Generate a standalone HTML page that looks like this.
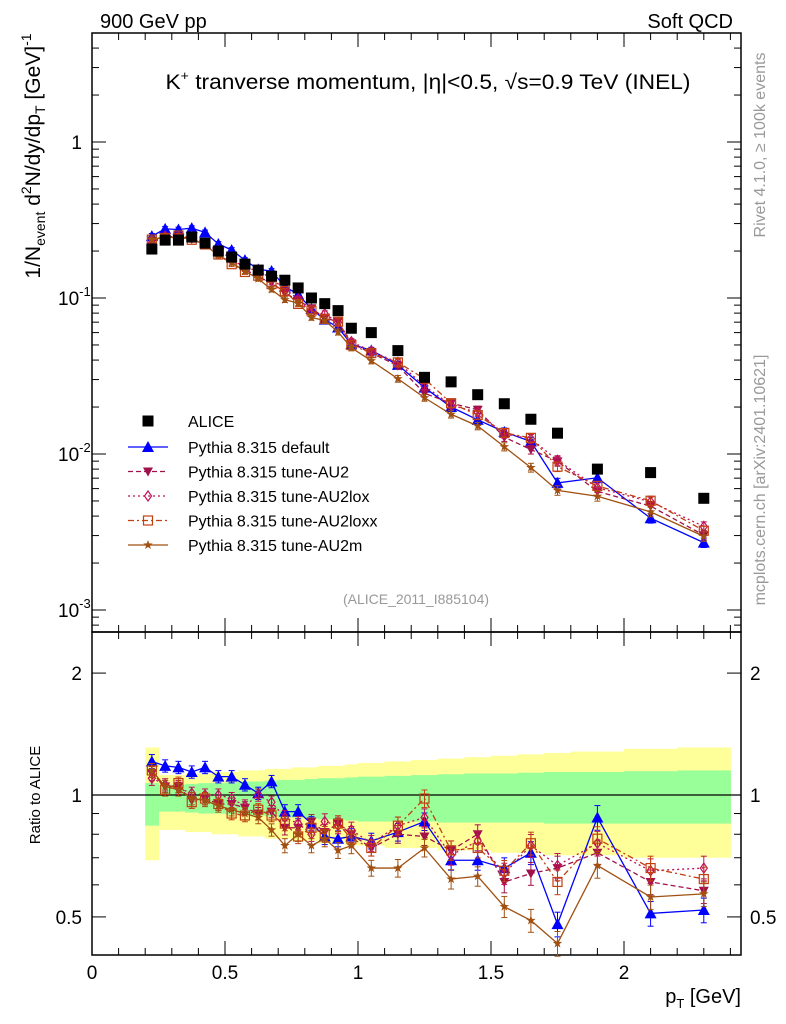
<!DOCTYPE html>
<html><head><meta charset="utf-8"><style>
html,body{margin:0;padding:0;background:#fff;}
svg{display:block;font-family:"Liberation Sans",sans-serif;}
</style></head><body>
<svg id="c" width="786" height="1024" viewBox="0 0 786 1024" xmlns="http://www.w3.org/2000/svg">
<text x="100" y="28" font-size="20">900 GeV pp</text>
<text x="733" y="28" font-size="20" text-anchor="end">Soft QCD</text>
<text x="428" y="89" font-size="21" text-anchor="middle" textLength="525" lengthAdjust="spacingAndGlyphs">K<tspan font-size="13" dy="-9">+</tspan><tspan dy="9"> tranverse momentum, |η|&lt;0.5, √s=0.9 TeV (INEL)</tspan></text>
<text x="416" y="604" font-size="14" fill="#999" text-anchor="middle">(ALICE_2011_I885104)</text>
<text transform="translate(40,156) rotate(-90)" font-size="21" text-anchor="middle">1/N<tspan font-size="14" dy="5">event</tspan><tspan dy="-5"> d</tspan><tspan font-size="14" dy="-9">2</tspan><tspan dy="9">N/dy/dp</tspan><tspan font-size="14" dy="5">T</tspan><tspan dy="-5">  [GeV]</tspan><tspan font-size="14" dy="-9">-1</tspan></text>
<text transform="translate(40,795) rotate(-90)" font-size="15" text-anchor="middle">Ratio to ALICE</text>
<text x="741" y="1003" font-size="20" text-anchor="end">p<tspan font-size="13" dy="5">T</tspan><tspan dy="-5"> [GeV]</tspan></text>
<text transform="translate(765,145) rotate(-90)" font-size="16" fill="#999" text-anchor="middle">Rivet 4.1.0, ≥ 100k events</text>
<text transform="translate(765,480) rotate(-90)" font-size="16" fill="#999" text-anchor="middle">mcplots.cern.ch [arXiv:2401.10621]</text>
<g id="g"></g>
</svg>
<script>
const pt=[0.225,0.275,0.325,0.375,0.425,0.475,0.525,0.575,0.625,0.675,0.725,0.775,0.825,0.875,0.925,0.975,1.05,1.15,1.25,1.35,1.45,1.55,1.65,1.75,1.9,2.1,2.3];
const binLo=[0.2,0.25,0.3,0.35,0.4,0.45,0.5,0.55,0.6,0.65,0.7,0.75,0.8,0.85,0.9,0.95,1.0,1.1,1.2,1.3,1.4,1.5,1.6,1.7,1.8,2.0,2.2];
const binHi=[0.25,0.3,0.35,0.4,0.45,0.5,0.55,0.6,0.65,0.7,0.75,0.8,0.85,0.9,0.95,1.0,1.1,1.2,1.3,1.4,1.5,1.6,1.7,1.8,2.0,2.2,2.4];
const alice=[0.206,0.235,0.235,0.246,0.225,0.2,0.183,0.165,0.151,0.138,0.13,0.116,0.1,0.092,0.083,0.064,0.06,0.046,0.031,0.029,0.024,0.021,0.0167,0.0136,0.0080,0.0076,0.0052];
const rDefault=[1.21,1.18,1.17,1.14,1.17,1.11,1.11,1.06,1.01,1.08,0.91,0.91,0.85,0.79,0.78,0.79,0.77,0.81,0.86,0.69,0.69,0.66,0.72,0.48,0.88,0.51,0.52];
const rAU2=[1.13,1.05,1.05,0.97,0.98,0.95,0.95,0.93,0.90,0.91,0.83,0.83,0.86,0.81,0.85,0.80,0.74,0.80,0.79,0.73,0.80,0.61,0.64,0.66,0.72,0.61,0.58];
const rAU2lox=[1.10,1.06,1.04,1.01,1.00,1.00,0.98,0.94,1.00,0.96,0.88,0.85,0.80,0.86,0.84,0.82,0.76,0.84,0.88,0.71,0.77,0.64,0.75,0.67,0.76,0.65,0.66];
const rAU2loxx=[1.15,1.03,1.07,0.96,0.98,0.95,0.90,0.89,0.92,0.89,0.85,0.79,0.83,0.80,0.85,0.78,0.74,0.84,0.98,0.73,0.74,0.65,0.76,0.61,0.78,0.66,0.62];
const rAU2m=[1.15,1.05,1.03,0.98,0.97,0.94,0.92,0.90,0.88,0.82,0.75,0.80,0.75,0.78,0.73,0.75,0.66,0.66,0.74,0.62,0.63,0.53,0.49,0.43,0.67,0.56,0.57];
const relErr=[0.04,0.035,0.035,0.035,0.035,0.035,0.035,0.035,0.035,0.035,0.04,0.04,0.04,0.045,0.045,0.045,0.045,0.05,0.05,0.055,0.055,0.06,0.065,0.07,0.07,0.07,0.07];
const greenHi=[1.07,1.06,1.06,1.065,1.07,1.07,1.075,1.08,1.08,1.085,1.09,1.09,1.095,1.10,1.10,1.105,1.11,1.115,1.12,1.125,1.13,1.13,1.135,1.14,1.14,1.145,1.15];
const greenLo=[0.84,0.91,0.91,0.905,0.90,0.90,0.895,0.89,0.89,0.885,0.88,0.88,0.875,0.87,0.87,0.865,0.86,0.86,0.86,0.855,0.855,0.855,0.855,0.85,0.85,0.85,0.85];
const yellowHi=[1.31,1.12,1.12,1.13,1.13,1.14,1.14,1.15,1.15,1.16,1.16,1.17,1.17,1.18,1.18,1.19,1.20,1.21,1.22,1.23,1.24,1.25,1.26,1.27,1.28,1.30,1.31];
const yellowLo=[0.69,0.82,0.82,0.81,0.81,0.80,0.80,0.79,0.79,0.78,0.78,0.77,0.77,0.76,0.76,0.75,0.75,0.74,0.74,0.73,0.73,0.72,0.72,0.71,0.71,0.70,0.70];
const yTickExp=[0,-1,-2,-3];
const rTicks=[2,1,0.5];
const xTicks=[0,0.5,1,1.5,2];

const NS="http://www.w3.org/2000/svg";
const G=document.getElementById('g');
const L=92,R=741,T=33,M=632,B=955;
const X=v=>L+v*266;
const Y=v=>142-156*Math.log10(v);
const RY=v=>795-405*Math.log10(v);
function el(tag,attrs,parent){const e=document.createElementNS(NS,tag);for(const k in attrs)e.setAttribute(k,attrs[k]);(parent||G).appendChild(e);return e;}

const bands=el('g',{});


for(let i=0;i<pt.length;i++){
  const y=el('rect',{x:X(binLo[i]),y:RY(yellowHi[i]),width:X(binHi[i])-X(binLo[i])+0.5,height:RY(yellowLo[i])-RY(yellowHi[i]),fill:'#ffff99'},bands);
  
  
}
for(let i=0;i<pt.length;i++){
  const g=el('rect',{x:X(binLo[i]),y:RY(greenHi[i]),width:X(binHi[i])-X(binLo[i])+0.5,height:RY(greenLo[i])-RY(greenHi[i]),fill:'#99ff99'},bands);
  
  
}
const one=el('line',{x1:L,x2:R,y1:RY(1),y2:RY(1),stroke:'#000','stroke-width':1.2});



const f1=el('rect',{x:L,y:T,width:R-L,height:M-T,fill:'none',stroke:'#000','stroke-width':1.5});


const f2=el('rect',{x:L,y:M,width:R-L,height:B-M,fill:'none',stroke:'#000','stroke-width':1.5});



for(let k=0;k<=24;k++){
  const v=k/10,x=X(v),maj=(k%5===0),len=maj?14:7;
  [[T,1],[M,-1],[M,1],[B,-1]].forEach(([y0,d])=>{el('line',{x1:x,x2:x,y1:y0,y2:y0+d*len,stroke:'#000','stroke-width':1});});
}
xTicks.forEach(v=>{const t=el('text',{x:X(v),y:979,'font-size':19,'text-anchor':'middle'});t.textContent=String(v);

});

for(let e=-4;e<=1;e++){for(let m=1;m<=9;m++){const v=m*Math.pow(10,e),y=Y(v);if(y<T||y>M)continue;const len=m===1?14:7;
el('line',{x1:L,x2:L+len,y1:y,y2:y,stroke:'#000'});el('line',{x1:R,x2:R-len,y1:y,y2:y,stroke:'#000'});}}
yTickExp.forEach(e=>{const t=el('text',{x:e===0?82:58,y:Y(Math.pow(10,e))+7,'font-size':19,'text-anchor':e===0?'end':'start'});
if(e===0)t.textContent='1';else{t.textContent='10';const s=el('tspan',{dy:-9,'font-size':13},t);s.textContent=String(e);}

});

for(let e=-1;e<=0;e++){for(let m=1;m<=9;m++){const v=m*Math.pow(10,e),y=RY(v);if(y<M||y>B)continue;const len=(v===1||v===2||v===0.5)?14:7;
el('line',{x1:L,x2:L+len,y1:y,y2:y,stroke:'#000'});el('line',{x1:R,x2:R-len,y1:y,y2:y,stroke:'#000'});}}
rTicks.forEach(v=>{[[82,'end'],[750,'start']].forEach(([x,a])=>{const t=el('text',{x:x,y:RY(v)+7,'font-size':19,'text-anchor':a});t.textContent=String(v);

});});

function marker(type,x,y,c,parent){
  if(type==='sq')return el('rect',{x:x-5.5,y:y-5.5,width:11,height:11,fill:'#000'},parent);
  if(type==='tri')return el('polygon',{points:`${x},${y-6} ${x-6},${y+5} ${x+6},${y+5}`,fill:c},parent);
  if(type==='dtri')return el('polygon',{points:`${x},${y+5} ${x-5},${y-4} ${x+5},${y-4}`,fill:c},parent);
  if(type==='dia')return el('polygon',{points:`${x},${y-5} ${x-3.5},${y} ${x},${y+5} ${x+3.5},${y}`,fill:'none',stroke:c,'stroke-width':1.2},parent);
  if(type==='osq')return el('rect',{x:x-4.5,y:y-4.5,width:9,height:9,fill:'none',stroke:c,'stroke-width':1.2},parent);
  if(type==='star'){let p=[];for(let i=0;i<10;i++){const a=Math.PI/2+i*Math.PI/5,r=i%2?2:5;p.push((x+r*Math.cos(a))+','+(y-r*Math.sin(a)));}return el('polygon',{points:p.join(' '),fill:c},parent);}
}
const series=[
 {name:'default',label:'Pythia 8.315 default',r:rDefault,c:'#0000ff',m:'tri',dash:''},
 {name:'au2',label:'Pythia 8.315 tune-AU2',r:rAU2,c:'#a0104a',m:'dtri',dash:'5,3'},
 {name:'au2lox',label:'Pythia 8.315 tune-AU2lox',r:rAU2lox,c:'#c0105a',m:'dia',dash:'2,3'},
 {name:'au2loxx',label:'Pythia 8.315 tune-AU2loxx',r:rAU2loxx,c:'#c04010',m:'osq',dash:'6,3,2,3'},
 {name:'au2m',label:'Pythia 8.315 tune-AU2m',r:rAU2m,c:'#a05010',m:'star',dash:''}
];
series.forEach((s,si)=>{
  const g=el('g',{});
  
  
  const vals=alice.map((a,i)=>a*s.r[i]);
  el('polyline',{points:pt.map((p,i)=>X(p)+','+Y(vals[i])).join(' '),fill:'none',stroke:s.c,'stroke-width':1.3,'stroke-dasharray':s.dash},g);
  el('polyline',{points:pt.map((p,i)=>X(p)+','+RY(s.r[i])).join(' '),fill:'none',stroke:s.c,'stroke-width':1.3,'stroke-dasharray':s.dash},g);
  pt.forEach((p,i)=>{
    const x=X(p),e=relErr[i];
    [[Y,vals[i]],[RY,s.r[i]]].forEach(([f,v])=>{
      const y1=f(v*(1+e)),y2=f(v*(1-e));
      el('line',{x1:x,x2:x,y1:y1,y2:y2,stroke:s.c,'stroke-width':1},g);
      el('line',{x1:x-3,x2:x+3,y1:y1,y2:y1,stroke:s.c},g);el('line',{x1:x-3,x2:x+3,y1:y2,y2:y2,stroke:s.c},g);
      const mk=marker(s.m,x,f(v),s.c,g);
      
      
    });
  });
  const ly=447+si*24.5;
  const lg=el('g',{});
  
  
  el('line',{x1:128,x2:168,y1:ly,y2:ly,stroke:s.c,'stroke-width':1.3,'stroke-dasharray':s.dash},lg);
  marker(s.m,148,ly,s.c,lg);
  const t=el('text',{x:188,y:ly+6,'font-size':16},lg);t.textContent=s.label;
});
const ag=el('g',{});


pt.forEach((p,i)=>{const mk=marker('sq',X(p),Y(alice[i]),'#000',ag);

});
const al=el('g',{});


marker('sq',148,421,'#000',al);
const at=el('text',{x:188,y:427,'font-size':16},al);at.textContent='ALICE';
</script>
</body></html>
